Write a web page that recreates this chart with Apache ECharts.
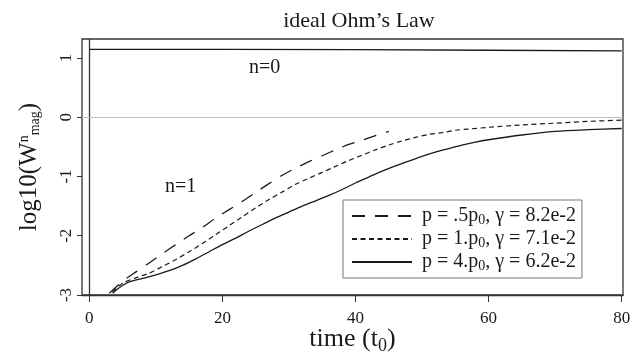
<!DOCTYPE html>
<html>
<head>
<meta charset="utf-8">
<script src="https://cdn.jsdelivr.net/npm/echarts@6/dist/echarts.min.js"></script>
<style>
  html, body { margin: 0; padding: 0; background: #fff; }
  #chart { width: 644px; height: 355px; }
</style>
</head>
<body>
<div id="chart"></div>
<script>
// values
const seriesNames = ["p = .5p0, γ = 8.2e-2", "p = 1.p0, γ = 7.1e-2", "p = 4.p0, γ = 6.2e-2"];

const halfT = [3, 5, 7, 9, 11, 13, 15, 17, 19, 21, 23, 25, 27, 29, 31, 33, 35, 37, 39, 41, 43, 45];
const halfV = [-2.97, -2.77, -2.61, -2.46, -2.30, -2.15, -2.00, -1.86, -1.70, -1.56, -1.42, -1.27, -1.12, -0.98, -0.86, -0.75, -0.65, -0.55, -0.46, -0.39, -0.31, -0.24];

const oneT = [3.5, 5, 7, 9, 11, 13, 15, 17, 19, 21, 23, 25, 27, 29, 31, 33, 35, 37, 39, 41, 43, 45, 47, 49, 51, 53, 55, 57, 60, 65, 70, 75, 80];
const oneV = [-2.95, -2.80, -2.71, -2.63, -2.52, -2.40, -2.27, -2.13, -1.98, -1.83, -1.68, -1.53, -1.39, -1.26, -1.13, -1.03, -0.93, -0.83, -0.73, -0.64, -0.55, -0.47, -0.40, -0.34, -0.29, -0.26, -0.22, -0.20, -0.17, -0.13, -0.10, -0.07, -0.05];

const fourT = [3.5, 4, 5, 6, 8, 10, 12, 14, 16, 18, 20, 22, 24, 26, 28, 30, 32, 34, 36, 38, 40, 42, 44, 46, 48, 50, 52, 54, 56, 58, 60, 65, 70, 75, 80];
const fourV = [-2.97, -2.92, -2.84, -2.78, -2.72, -2.66, -2.59, -2.50, -2.39, -2.27, -2.15, -2.04, -1.92, -1.81, -1.70, -1.60, -1.50, -1.41, -1.32, -1.22, -1.11, -1.01, -0.91, -0.82, -0.74, -0.66, -0.59, -0.53, -0.47, -0.42, -0.38, -0.30, -0.24, -0.21, -0.19];

// n=0 curve
const zeroT = [0, 20, 40, 60, 80];
const zeroV = [1.145, 1.145, 1.14, 1.13, 1.12];

const xTicks = [0, 20, 40, 60, 80];
const yTicks = [-3, -2, -1, 0, 1];

const serif = "Liberation Serif";
const ink = "#1a1a1a";

function pairs(t, v) {
  return t.map((x, i) => [x, v[i]]);
}

const myChart = echarts.init(document.getElementById("chart"));

const option = {
  backgroundColor: "#fff",
  animation: false,
  title: {
    text: "ideal Ohm’s Law",
    left: 354,
    top: 5,
    textAlign: "center",
    textStyle: { fontFamily: serif, fontSize: 22, fontWeight: "normal", color: ink },
  },
  grid: {
    left: 82,
    right: 21,
    top: 39,
    bottom: 60,
    outerBoundsMode: "none",
    show: true,
    borderColor: "#333",
    borderWidth: 1.3,
    backgroundColor: "transparent",
  },
  xAxis: {
    type: "value",
    min: -1.1,
    max: 80.2,
    name: "time (t{sub|0})",
    nameLocation: "middle",
    nameGap: 29,
    nameMoveOverlap: false,
    nameTextStyle: {
      fontFamily: serif,
      fontSize: 26,
      color: ink,
      rich: {
        sub: { fontFamily: serif, fontSize: 18, color: ink, verticalAlign: "bottom", padding: [13, 0, 0, 0] },
      },
    },
    axisLine: { show: true, onZero: false, lineStyle: { color: "#333", width: 1.3 } },
    axisTick: { show: true, length: 7, customValues: xTicks, lineStyle: { color: "#333" } },
    axisLabel: { customValues: xTicks, margin: 15, fontFamily: serif, fontSize: 17, color: ink },
    splitLine: { show: false },
  },
  yAxis: {
    type: "value",
    min: -3,
    max: 1.32,
    name: "log10(W{sup|n}{sub|mag})",
    nameLocation: "middle",
    nameGap: 40,
    nameMoveOverlap: false,
    nameTextStyle: {
      fontFamily: serif,
      fontSize: 25,
      color: ink,
      rich: {
        sup: { fontFamily: serif, fontSize: 14, color: ink, verticalAlign: "top", padding: [0, 0, 10, 0] },
        sub: { fontFamily: serif, fontSize: 14, color: ink, verticalAlign: "bottom", padding: [10, 0, 0, 0] },
      },
    },
    axisLine: { show: false, onZero: false },
    axisTick: { show: true, length: 5, customValues: yTicks, lineStyle: { color: "#333" } },
    axisLabel: { customValues: yTicks, rotate: 90, margin: 7, fontFamily: serif, fontSize: 17, color: ink },
    splitLine: { show: false },
  },
  legend: {
    orient: "vertical",
    left: 343,
    top: 200,
    padding: [6, 6, 5, 8],
    itemGap: 2,
    itemWidth: 60,
    itemHeight: 14,
    borderColor: "#777",
    borderWidth: 1,
    borderRadius: 0,
    backgroundColor: "#fff",
    itemStyle: { opacity: 0 },
    data: seriesNames,
    formatter: (name) => name.replace("p0", "p{sub|0}"),
    textStyle: {
      fontFamily: serif,
      fontSize: 20,
      color: ink,
      padding: [0, 0, 0, 5],
      rich: {
        sub: { fontFamily: serif, fontSize: 14, color: ink, verticalAlign: "bottom", padding: [8, 0, 0, 0] },
      },
    },
  },
  series: [
    {
      name: "n0",
      type: "line",
      data: pairs(zeroT, zeroV),
      symbol: "none",
      lineStyle: { color: ink, width: 1.3 },
      silent: true,
      z: 3,
      markLine: {
        silent: true,
        symbol: "none",
        label: { show: false },
        data: [
          { xAxis: 0, lineStyle: { color: "#333", width: 1.3, type: "solid" } },
          { yAxis: 0, lineStyle: { color: "#bdbdbd", width: 1, type: "solid" } },
        ],
      },
    },
    {
      name: seriesNames[0],
      type: "line",
      data: pairs(halfT, halfV),
      symbol: "none",
      smooth: 0.3,
      lineStyle: { color: ink, width: 1.3, type: [13, 10] },
    },
    {
      name: seriesNames[1],
      type: "line",
      data: pairs(oneT, oneV),
      symbol: "none",
      smooth: 0.3,
      lineStyle: { color: ink, width: 1.2, type: [5, 3.5] },
    },
    {
      name: seriesNames[2],
      type: "line",
      data: pairs(fourT, fourV),
      symbol: "none",
      smooth: 0.3,
      lineStyle: { color: ink, width: 1.3, type: "solid" },
    },
  ],
  graphic: [
    {
      type: "text",
      left: 249,
      top: 58,
      style: { text: "n=0", fontFamily: serif, fontSize: 20, fill: ink },
    },
    {
      type: "text",
      left: 165,
      top: 177,
      style: { text: "n=1", fontFamily: serif, fontSize: 20, fill: ink },
    },
  ],
};

option && myChart.setOption(option);
window.addEventListener("resize", () => {
  myChart.resize();
});
</script>
</body>
</html>
